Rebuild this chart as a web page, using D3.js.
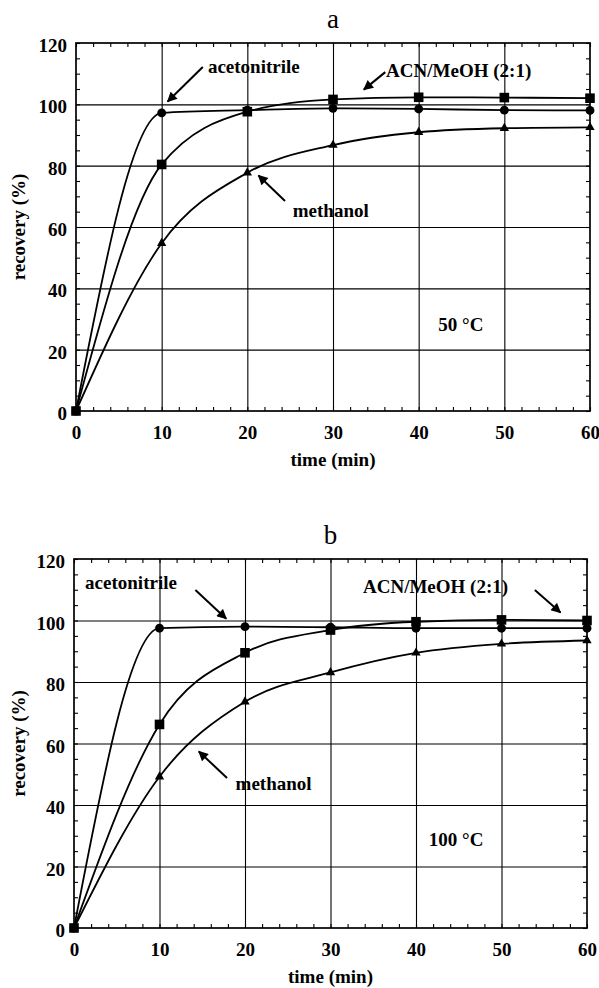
<!DOCTYPE html>
<html>
<head>
<meta charset="utf-8">
<script src="https://cdn.jsdelivr.net/npm/d3@7"></script>
<style>
  body { margin: 0; background: #fff; }
  text { font-family: "Liberation Serif", "Times New Roman", serif; fill: #000; }
</style>
</head>
<body>
<script type="text/javascript">
  // extraction time (min)
  const times = [0, 10, 20, 30, 40, 50, 60];

  // panel a, 50 °C
  const acnA = [0, 97.2, 98.1, 98.7, 98.5, 98.1, 98.0];
  const mixA = [0, 80.4, 97.6, 101.6, 102.3, 102.2, 102.0];
  const meohA = [0, 54.7, 77.7, 86.7, 90.9, 92.2, 92.5];

  // panel b, 100 °C
  const acnB = [0, 97.5, 98.0, 97.8, 97.5, 97.5, 97.5];
  const mixB = [0, 66.2, 89.5, 96.9, 99.6, 100.2, 100.0];
  const meohB = [0, 49.2, 73.6, 83.1, 89.5, 92.4, 93.5];

  const xTicks = [0, 10, 20, 30, 40, 50, 60];
  const yTicks = [0, 20, 40, 60, 80, 100, 120];
  const seriesNames = ["acetonitrile", "ACN/MeOH (2:1)", "methanol"];

  const width = 599, height = 988;

  const svg = d3.select("body").append("svg")
    .attr("width", width)
    .attr("height", height);

  svg.append("defs").append("marker")
    .attr("id", "arrow")
    .attr("viewBox", "0 0 10 10")
    .attr("refX", 9).attr("refY", 5)
    .attr("markerWidth", 5.5).attr("markerHeight", 5)
    .attr("orient", "auto")
    .append("path")
    .attr("d", "M0,0 L10,5 L0,10 z")
    .attr("fill", "#000");

  // notes are [label, textT, textV, arrowFromT, arrowFromV, arrowToT, arrowToV] in data units
  const panels = [
    { title: "a", left: 76, right: 590, top: 43, bottom: 411,
      acn: acnA, mix: mixA, meoh: meohA, temp: "50 °C", tempAt: [42.3, 26],
      notes: [
        [seriesNames[0], 15.4, 110.2, 14.8, 112.2, 10.7, 100.9],
        [seriesNames[1], 36.2, 108.9, 36.1, 110.5, 33.6, 104.8],
        [seriesNames[2], 25.3, 63.3, 24.4, 68.5, 21.3, 76.8]
      ] },
    { title: "b", left: 74, right: 587, top: 559, bottom: 928,
      acn: acnB, mix: mixB, meoh: meohB, temp: "100 °C", tempAt: [41.5, 26.7],
      notes: [
        [seriesNames[0], 1.3, 110.2, 14.2, 109.9, 17.8, 100.6],
        [seriesNames[1], 33.8, 108.9, 53.9, 109.9, 56.9, 102.6],
        [seriesNames[2], 18.9, 44.9, 17.9, 48.8, 14.6, 57.4]
      ] }
  ];

  panels.forEach(function(p) {
    const x = d3.scaleLinear().domain([0, 60]).range([p.left, p.right]);
    const y = d3.scaleLinear().domain([0, 120]).range([p.bottom, p.top]);
    const g = svg.append("g");
    const h = p.bottom - p.top, w = p.right - p.left;

    // grid
    g.append("g")
      .attr("transform", "translate(0," + p.bottom + ")")
      .call(d3.axisBottom(x).tickValues([10, 20, 30, 40, 50]).tickSize(-h).tickFormat(""))
      .call(function(a) { a.select(".domain").remove(); });
    g.append("g")
      .attr("transform", "translate(" + p.left + ",0)")
      .call(d3.axisLeft(y).tickValues([20, 40, 60, 80, 100]).tickSize(-w).tickFormat(""))
      .call(function(a) { a.select(".domain").remove(); });

    // minor ticks inside the frame
    const minorX = d3.range(0, 61, 2), minorY = d3.range(0, 121, 5);
    g.append("g").attr("transform", "translate(0," + p.bottom + ")")
      .call(d3.axisBottom(x).tickValues(minorX).tickSize(-4).tickFormat(""));
    g.append("g").attr("transform", "translate(0," + p.top + ")")
      .call(d3.axisTop(x).tickValues(minorX).tickSize(-4).tickFormat(""));
    g.append("g").attr("transform", "translate(" + p.left + ",0)")
      .call(d3.axisLeft(y).tickValues(minorY).tickSize(-4).tickFormat(""));
    g.append("g").attr("transform", "translate(" + p.right + ",0)")
      .call(d3.axisRight(y).tickValues(minorY).tickSize(-4).tickFormat(""));
    g.selectAll(".domain").remove();
    g.selectAll(".tick line").attr("stroke", "#000").attr("stroke-width", 1.1);

    g.append("rect")
      .attr("x", p.left).attr("y", p.top)
      .attr("width", w).attr("height", h)
      .attr("fill", "none")
      .attr("stroke", "#000")
      .attr("stroke-width", 1.7);

    // tick labels
    const xl = g.append("g").attr("transform", "translate(0," + p.bottom + ")")
      .call(d3.axisBottom(x).tickValues(xTicks).tickSize(0).tickPadding(15));
    const yl = g.append("g").attr("transform", "translate(" + p.left + ",0)")
      .call(d3.axisLeft(y).tickValues(yTicks).tickSize(0).tickPadding(9));
    [xl, yl].forEach(function(a) {
      a.select(".domain").remove();
      a.selectAll("text")
        .style("font-family", "'Liberation Serif', serif")
        .style("font-size", "19px")
        .style("font-weight", "bold")
        .attr("fill", "#000");
    });
    yl.selectAll("text").attr("dy", "0.45em");

    // titles
    g.append("text")
      .attr("x", (p.left + p.right) / 2).attr("y", p.top - 15)
      .attr("text-anchor", "middle")
      .style("font-size", "27px")
      .text(p.title);
    g.append("text")
      .attr("x", (p.left + p.right) / 2).attr("y", p.bottom + 55)
      .attr("text-anchor", "middle")
      .style("font-size", "19px").style("font-weight", "bold")
      .text("time (min)");
    g.append("text")
      .attr("transform", "translate(25," + ((p.top + p.bottom) / 2) + ") rotate(-90)")
      .attr("text-anchor", "middle")
      .style("font-size", "19px").style("font-weight", "bold")
      .text("recovery (%)");

    // curves
    const series = [
      { vals: p.meoh, sym: d3.symbolTriangle, size: 38 },
      { vals: p.acn, sym: d3.symbolCircle, size: 62 },
      { vals: p.mix, sym: d3.symbolSquare, size: 92 }
    ];
    const line = d3.line()
      .x(function(d) { return x(d[0]); })
      .y(function(d) { return y(d[1]); })
      .curve(d3.curveMonotoneX);

    series.forEach(function(s) {
      const pts = times.map(function(t, i) { return [t, s.vals[i]]; });
      g.append("path")
        .datum(pts)
        .attr("d", line)
        .attr("fill", "none")
        .attr("stroke", "#000")
        .attr("stroke-width", 1.8);
    });
    series.forEach(function(s) {
      const pts = times.map(function(t, i) { return [t, s.vals[i]]; });
      g.selectAll(null)
        .data(pts)
        .enter().append("path")
        .attr("transform", function(d) { return "translate(" + x(d[0]) + "," + y(d[1]) + ")"; })
        .attr("d", d3.symbol().type(s.sym).size(s.size))
        .attr("fill", "#000");
    });

    // annotations
    p.notes.forEach(function(n) {
      g.append("text")
        .attr("x", x(n[1])).attr("y", y(n[2]))
        .style("font-size", "19px").style("font-weight", "bold")
        .text(n[0]);
      g.append("line")
        .attr("x1", x(n[3])).attr("y1", y(n[4]))
        .attr("x2", x(n[5])).attr("y2", y(n[6]))
        .attr("stroke", "#000")
        .attr("stroke-width", 2)
        .attr("marker-end", "url(#arrow)");
    });

    g.append("text")
      .attr("x", x(p.tempAt[0])).attr("y", y(p.tempAt[1]))
      .style("font-size", "19px").style("font-weight", "bold")
      .text(p.temp);
  });
</script>
</body>
</html>
